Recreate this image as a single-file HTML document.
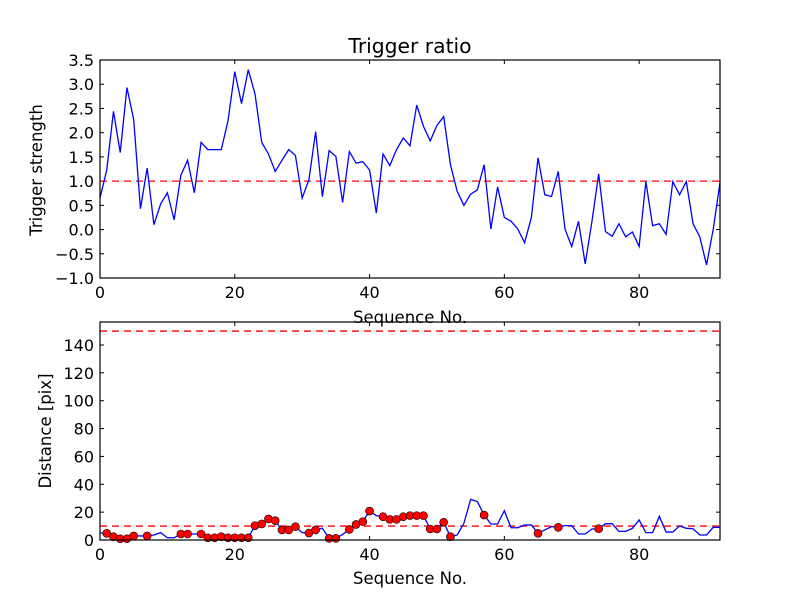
<!DOCTYPE html>
<html><head><meta charset="utf-8">
<style>
html,body{margin:0;padding:0;background:#fff;}
svg{display:block;font-family:"DejaVu Sans","Liberation Sans",sans-serif;}
</style></head>
<body>
<svg id="fig" width="800" height="600" viewBox="0 0 800 600" xmlns="http://www.w3.org/2000/svg">
<rect x="0" y="0" width="800" height="600" fill="#fff"/>
<text x="410" y="53" font-size="20.3" text-anchor="middle">Trigger ratio</text>
<g id="top"></g>
<g id="bot"></g>
<text x="410" y="323" font-size="16.5" text-anchor="middle">Sequence No.</text>
<text x="410" y="584" font-size="16.5" text-anchor="middle">Sequence No.</text>
<text x="0" y="0" font-size="16.5" text-anchor="middle" transform="translate(42,170) rotate(-90)">Trigger strength</text>
<text x="0" y="0" font-size="16.5" text-anchor="middle" transform="translate(51,431) rotate(-90)">Distance [pix]</text>
</svg>
<script>
const strength = [0.65,1.23,2.44,1.59,2.93,2.27,0.43,1.27,0.1,0.53,0.76,0.2,1.12,1.43,0.76,1.8,1.65,1.65,1.65,2.25,3.26,2.6,3.3,2.8,1.8,1.56,1.2,1.43,1.65,1.53,0.65,1.03,2.02,0.68,1.63,1.51,0.56,1.61,1.37,1.4,1.23,0.34,1.56,1.32,1.65,1.89,1.73,2.57,2.13,1.83,2.15,2.33,1.34,0.79,0.5,0.73,0.82,1.34,0.01,0.88,0.25,0.17,0.01,-0.27,0.24,1.48,0.72,0.68,1.2,0.01,-0.35,0.17,-0.71,0.17,1.15,-0.04,-0.14,0.12,-0.15,-0.05,-0.35,0.99,0.08,0.12,-0.1,0.99,0.72,0.99,0.12,-0.15,-0.73,0.01,0.97];
const distance = [5,4.8,2.4,0.9,0.9,2.9,2.9,2.9,3.6,5.3,1.6,1.6,4.3,4.3,4.3,4.3,1.6,1.6,2.4,1.6,1.6,1.6,1.6,10.3,11.5,15.1,13.9,7.2,7.2,9.6,5.3,5,7.2,8.4,1.2,1.2,4,7.6,11.2,13.2,20.8,17.5,16.7,14.8,14.8,16.7,17.5,17.5,17.5,7.9,7.9,12.7,2.4,3.6,12,29.2,27.5,17.9,11.5,11.5,21,8.8,8.8,10.8,10.8,4.8,7.2,9.6,9.1,10.3,10.3,4.3,4.3,7.9,8.1,11.7,11.7,6.2,6.2,8.4,14.4,5.3,5.3,17,5.7,5.7,10.1,8.4,8.1,3.6,3.6,9.1,9.1];
const markerIdx = [1,2,3,4,5,7,12,13,15,16,17,18,19,20,21,22,23,24,25,26,27,28,29,31,32,34,35,37,38,39,40,42,43,44,45,46,47,48,49,50,51,52,57,65,68,74];
const xTicks = [0,20,40,60,80];
const topYTicks = [-1.0,-0.5,0.0,0.5,1.0,1.5,2.0,2.5,3.0,3.5];
const botYTicks = [0,20,40,60,80,100,120,140];
const topThreshold = [1.0];
const botThresholds = [10,150];

const NS="http://www.w3.org/2000/svg";
function mk(parent,tag,attrs){const e=document.createElementNS(NS,tag);for(const k in attrs)e.setAttribute(k,attrs[k]);parent.appendChild(e);return e;}
const L=100,R=720;
const xs=v=>L+(v-0)/(92-0)*(R-L);

function axes(g,top,bottom,ymin,ymax,yticks,fmt,prefix){
  const ys=v=>bottom-(v-ymin)/(ymax-ymin)*(bottom-top);
  xTicks.forEach(t=>{
    const x=xs(t);
    const a=mk(g,'line',{x1:x,x2:x,y1:bottom,y2:bottom-4,stroke:'#000','stroke-width':1});
    
    
    const b=mk(g,'line',{x1:x,x2:x,y1:top,y2:top+4,stroke:'#000','stroke-width':1});
    
    
    const tx=mk(g,'text',{x:x,y:bottom+20,'font-size':16,'text-anchor':'middle'});
    tx.textContent=String(t);
    
    
  });
  yticks.forEach(t=>{
    const y=ys(t);
    const a=mk(g,'line',{x1:L,x2:L+4,y1:y,y2:y,stroke:'#000','stroke-width':1});
    
    
    const b=mk(g,'line',{x1:R,x2:R-4,y1:y,y2:y,stroke:'#000','stroke-width':1});
    
    
    const tx=mk(g,'text',{x:L-6,y:y+6,'font-size':16,'text-anchor':'end'});
    tx.textContent=fmt(t);
    
    
  });
  return ys;
}
function frame(g,top,bottom,prefix){
  const f=mk(g,'rect',{x:L,y:top,width:R-L,height:bottom-top,fill:'none',stroke:'#000','stroke-width':1.2});
  
  
}

const gt=document.getElementById('top');
const yt=axes(gt,60,278,-1,3.5,topYTicks,v=>v.toFixed(1).replace('-','\u2212'),'top');
topThreshold.forEach(v=>{
  const l=mk(gt,'line',{x1:L,x2:R,y1:yt(v),y2:yt(v),stroke:'#ff0000','stroke-width':1.3,'stroke-dasharray':'7,5'});
  
  
});
const pt=mk(gt,'polyline',{points:strength.map((v,i)=>xs(i)+','+yt(v)).join(' '),fill:'none',stroke:'#0000ff','stroke-width':1.3});


frame(gt,60,278,'top');

const gb=document.getElementById('bot');
const yb=axes(gb,322,540,0,156.5,botYTicks,v=>String(v),'bottom');
botThresholds.forEach(v=>{
  const l=mk(gb,'line',{x1:L,x2:R,y1:yb(v),y2:yb(v),stroke:'#ff0000','stroke-width':1.3,'stroke-dasharray':'7,5'});
  
  
});
const pb=mk(gb,'polyline',{points:distance.map((v,i)=>xs(i)+','+yb(v)).join(' '),fill:'none',stroke:'#0000ff','stroke-width':1.3});


markerIdx.forEach(i=>{
  const c=mk(gb,'circle',{cx:xs(i),cy:yb(distance[i]),r:4,fill:'#ff0000',stroke:'#000','stroke-width':0.6});
  
  
});
frame(gb,322,540,'bottom');
</script>
</body></html>
